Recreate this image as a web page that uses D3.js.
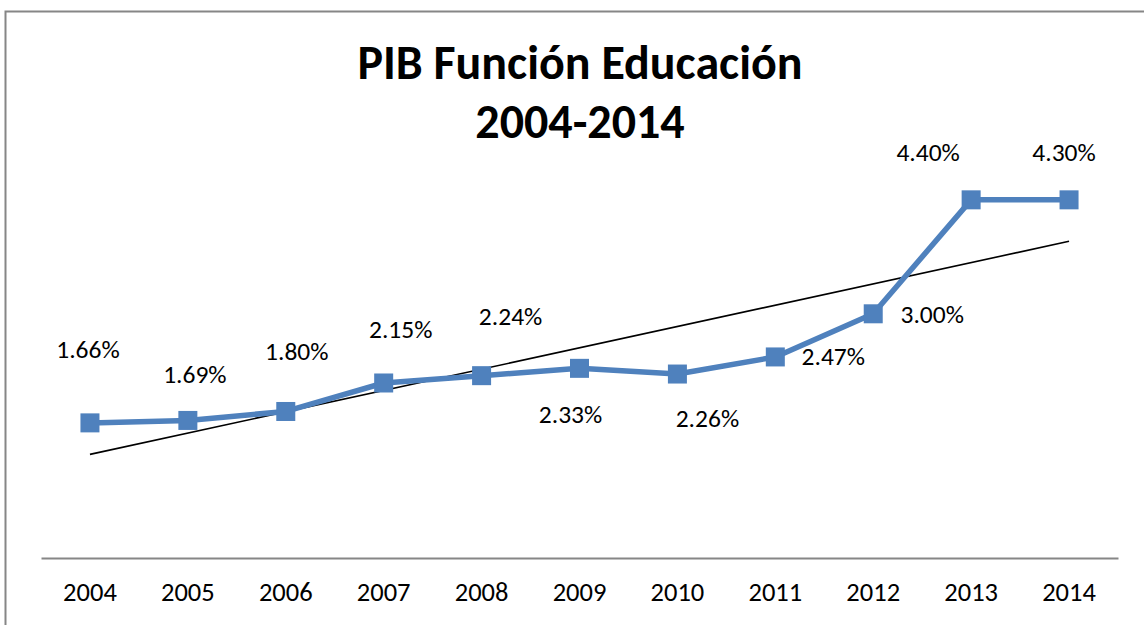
<!DOCTYPE html>
<html>
<head>
<meta charset="utf-8">
<script src="https://cdn.jsdelivr.net/npm/d3@7"></script>
<style>
  html, body { margin: 0; padding: 0; background: #fff; }
  svg text { font-family: Carlito, Calibri, "Liberation Sans", Arial, sans-serif; fill: #000; }
</style>
</head>
<body>
<div id="line-chart"></div>
<script>
// data
var years = ['2004', '2005', '2006', '2007', '2008', '2009', '2010', '2011', '2012', '2013', '2014'];
var values = [1.66, 1.69, 1.80, 2.15, 2.24, 2.33, 2.26, 2.47, 3.00, 4.40, 4.40];
var labelTexts = ['1.66%', '1.69%', '1.80%', '2.15%', '2.24%', '2.33%', '2.26%', '2.47%', '3.00%', '4.40%', '4.30%'];
var titleLines = ['PIB Función Educación', '2004-2014'];

// hand placed label offsets (from the point)
var labelDx = [-2, 7, 11, 17, 29, -9, 30, 58, 59, -43, -5];
var labelDy = [-65, -37, -51, -45, -51, 55, 53, 8, 9, -39, -39];

var width = 1144, height = 625;
var plot = {left: 41, right: 1118, top: 151, bottom: 558};

var svg = d3.select('#line-chart')
  .append('svg')
    .attr('width', width)
    .attr('height', height);

// chart border
svg.append('rect')
  .attr('x', 5.5)
  .attr('y', 11.5)
  .attr('width', width + 20)
  .attr('height', height + 20)
  .attr('fill', 'none')
  .attr('stroke', '#868686')
  .attr('stroke-width', 2);

var x = d3.scaleBand().domain(years).range([plot.left, plot.right]).padding(0);
var y = d3.scaleLinear().domain([0, 5]).range([plot.bottom, plot.top]);

function cx(d, i) { return x(years[i]) + x.bandwidth() / 2; }

// title
svg.append('text')
  .attr('x', 580)
  .attr('y', 79)
  .attr('text-anchor', 'middle')
  .style('font-size', '48px')
  .style('font-weight', 'bold')
  .text(titleLines[0]);

svg.append('text')
  .attr('x', 580)
  .attr('y', 138)
  .attr('text-anchor', 'middle')
  .style('font-size', '48px')
  .style('font-weight', 'bold')
  .text(titleLines[1]);

// x axis
var xAxis = d3.axisBottom(x).tickSize(0).tickPadding(24);
var gx = svg.append('g')
  .attr('class', 'x axis')
  .attr('transform', 'translate(0,' + plot.bottom + ')')
  .call(xAxis);
gx.select('.domain').attr('stroke', '#868686').attr('stroke-width', 2);
gx.selectAll('text')
  .style('font-size', '26.5px')
  .style('font-family', 'Carlito, Calibri, "Liberation Sans", Arial, sans-serif');

// linear trend line (least squares over the series)
var n = values.length;
var mx = d3.mean(values, function(d, i) { return i; });
var my = d3.mean(values);
var sxy = d3.sum(values, function(d, i) { return (i - mx) * (d - my); });
var sxx = d3.sum(values, function(d, i) { return (i - mx) * (i - mx); });
var slope = sxy / sxx, icept = my - slope * mx;
var trend = [0, n - 1].map(function(i) { return {i: i, v: icept + slope * i}; });

svg.append('path')
  .attr('fill', 'none')
  .attr('stroke', '#000')
  .attr('stroke-width', 1.6)
  .attr('d', d3.line()
    .x(function(d) { return x(years[d.i]) + x.bandwidth() / 2; })
    .y(function(d) { return y(d.v); })(trend));

// the series line
var valueline = d3.line()
  .x(cx)
  .y(function(d) { return y(d); });

svg.append('path')
  .attr('fill', 'none')
  .attr('stroke', '#4F81BD')
  .attr('stroke-width', 5.5)
  .attr('stroke-linejoin', 'round')
  .attr('d', valueline(values));

// square markers
var ms = 19;
svg.selectAll('rect.marker')
  .data(values)
  .enter().append('rect')
    .attr('class', 'marker')
    .attr('x', function(d, i) { return cx(d, i) - ms / 2; })
    .attr('y', function(d) { return y(d) - ms / 2; })
    .attr('width', ms)
    .attr('height', ms)
    .attr('fill', '#4F81BD');

// data labels
svg.selectAll('text.label')
  .data(values)
  .enter().append('text')
    .attr('class', 'label')
    .attr('x', function(d, i) { return cx(d, i) + labelDx[i]; })
    .attr('y', function(d, i) { return y(d) + labelDy[i]; })
    .attr('text-anchor', 'middle')
    .style('font-size', '25.5px')
    .text(function(d, i) { return labelTexts[i]; });
</script>
</body>
</html>
